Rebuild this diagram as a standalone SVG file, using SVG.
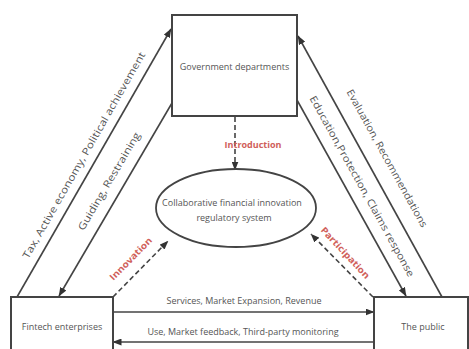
<svg xmlns="http://www.w3.org/2000/svg" width="469" height="349" viewBox="0 0 469 349">
<defs>
<marker id="ah" markerWidth="9" markerHeight="7" refX="8.5" refY="3.5" orient="auto" markerUnits="userSpaceOnUse">
<path d="M0,0 L9,3.5 L0,7 z" fill="#333"/>
</marker>
</defs>
<style>
.box{fill:#fff;stroke:#444;stroke-width:2}
.ln{stroke:#444;stroke-width:1.6;fill:none}
.dash{stroke:#444;stroke-width:1.6;fill:none;stroke-dasharray:5,3}
.t{font-family:"Open Sans","Noto Sans",sans-serif;font-size:9px;fill:#555}
.d{font-family:"Open Sans","Noto Sans",sans-serif;font-size:10px;fill:#555}
.r{font-family:"Open Sans","Noto Sans",sans-serif;font-size:9px;font-weight:bold;fill:#d0605a}
</style>
<rect width="469" height="349" fill="#fff"/>
<g id="connectors">
<line class="ln" x1="17" y1="297" x2="171" y2="29" marker-end="url(#ah)"/>
<line class="ln" x1="172" y1="103" x2="59" y2="296" marker-end="url(#ah)"/>
<line class="ln" x1="442" y1="297" x2="298" y2="36" marker-end="url(#ah)"/>
<line class="ln" x1="297" y1="100" x2="406" y2="296" marker-end="url(#ah)"/>
<line class="dash" x1="235" y1="117" x2="235" y2="170" marker-end="url(#ah)"/>
<line class="dash" x1="113" y1="297" x2="168" y2="241" marker-end="url(#ah)"/>
<line class="dash" x1="373" y1="297" x2="311" y2="234" marker-end="url(#ah)"/>
<line class="ln" x1="113" y1="312" x2="374" y2="312" marker-end="url(#ah)"/>
<line class="ln" x1="374" y1="342" x2="113" y2="342" marker-end="url(#ah)"/>
<text class="d" transform="translate(87,157) rotate(-60.2)" text-anchor="middle" textLength="236" lengthAdjust="spacingAndGlyphs">Tax, Active economy, Political achievement</text>
<text class="d" transform="translate(112,183) rotate(-59.4)" text-anchor="middle" textLength="112" lengthAdjust="spacingAndGlyphs">Guiding, Restraining</text>
<text class="d" transform="translate(384,160) rotate(61)" text-anchor="middle" textLength="156" lengthAdjust="spacingAndGlyphs">Evaluation, Recommendations</text>
<text class="d" transform="translate(359,188) rotate(61)" text-anchor="middle" textLength="205" lengthAdjust="spacingAndGlyphs">Education,Protection, Claims response</text>
<text class="r" x="253" y="148" text-anchor="middle">Introduction</text>
<text class="r" transform="translate(133,261) rotate(-45.5)" text-anchor="middle" textLength="56" lengthAdjust="spacingAndGlyphs">Innovation</text>
<text class="r" transform="translate(343,255) rotate(47)" text-anchor="middle" textLength="67" lengthAdjust="spacingAndGlyphs">Participation</text>
<text class="t" x="244" y="304" text-anchor="middle">Services, Market Expansion, Revenue</text>
<text class="t" x="243" y="335" text-anchor="middle">Use, Market feedback, Third-party monitoring</text>
</g>
<g id="gov">
<rect class="box" x="172" y="15" width="125" height="101"/>
<text class="t" x="234.5" y="70" text-anchor="middle">Government departments</text>
</g>
<g id="system">
<ellipse cx="236" cy="208" rx="80" ry="39" fill="#fff" stroke="#444" stroke-width="1.8"/>
<text class="t" x="232" y="206" text-anchor="middle">Collaborative financial innovation</text>
<text class="t" x="234" y="221" text-anchor="middle">regulatory system</text>
</g>
<g id="fintech">
<rect class="box" x="11" y="297" width="102" height="60"/>
<text class="t" x="62" y="330" text-anchor="middle">Fintech enterprises</text>
</g>
<g id="public">
<rect class="box" x="374" y="297" width="94" height="60"/>
<text class="t" x="423" y="330" text-anchor="middle">The public</text>
</g>
</svg>
